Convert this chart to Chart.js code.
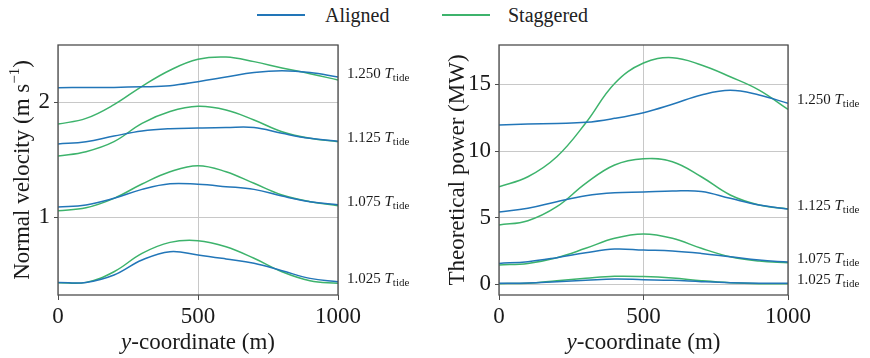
<!DOCTYPE html>
<html>
<head>
<meta charset="utf-8">
<script src="https://cdn.jsdelivr.net/npm/chart.js@4.4.1/dist/chart.umd.min.js"></script>
<style>
  html, body { margin: 0; padding: 0; background: #fff; }
  #wrap { position: relative; width: 870px; height: 358px; }
  #velWrap { position: absolute; left: 0; top: 0; width: 435px; height: 358px; }
  #powWrap { position: absolute; left: 435px; top: 0; width: 435px; height: 358px; }
  #legend { position: absolute; left: 0; top: 3px; width: 870px; height: 26px;
    font-family: "Liberation Serif", serif; font-size: 20px; color: #222; }
  .item { position: absolute; top: 0; line-height: 24px; }
  .swatch { position: absolute; top: 11px; width: 48px; height: 2px; }
</style>
</head>
<body>
<div id="wrap">
  <div id="legend">
    <div class="swatch" style="left:257px;background:#2276b8"></div>
    <div class="item" style="left:325px">Aligned</div>
    <div class="swatch" style="left:442px;background:#3db36c"></div>
    <div class="item" style="left:508px">Staggered</div>
  </div>
  <div id="velWrap"><canvas id="velChart"></canvas></div>
  <div id="powWrap"><canvas id="powChart"></canvas></div>
</div>
<script>
// y-coordinate samples (m)
const yCoord = [0, 100, 200, 300, 400, 500, 600, 700, 800, 900, 1000];
const periods = ['1.250', '1.125', '1.075', '1.025'];
const xTicks = [0, 500, 1000];
const velTicks = [1, 2];
const powTicks = [0, 5, 10, 15];

// Normal velocity (m/s)
const velAligned = [
  [2.128, 2.13, 2.13, 2.135, 2.145, 2.18, 2.22, 2.26, 2.275, 2.26, 2.22],
  [1.637, 1.657, 1.706, 1.75, 1.77, 1.776, 1.78, 1.78, 1.73, 1.686, 1.66],
  [1.087, 1.105, 1.163, 1.241, 1.29, 1.285, 1.265, 1.241, 1.183, 1.134, 1.108],
  [0.430, 0.43, 0.494, 0.625, 0.698, 0.669, 0.634, 0.596, 0.532, 0.465, 0.436]
];
const velStaggered = [
  [1.81, 1.86, 1.98, 2.14, 2.28, 2.375, 2.395, 2.355, 2.30, 2.25, 2.195],
  [1.532, 1.57, 1.657, 1.817, 1.92, 1.965, 1.933, 1.846, 1.744, 1.686, 1.657],
  [1.055, 1.081, 1.163, 1.288, 1.395, 1.448, 1.395, 1.294, 1.192, 1.134, 1.099],
  [0.427, 0.43, 0.523, 0.683, 0.779, 0.794, 0.741, 0.64, 0.523, 0.445, 0.422]
];

// Theoretical power (MW)
const powAligned = [
  [11.95, 12.02, 12.07, 12.15, 12.45, 12.87, 13.5, 14.2, 14.55, 14.2, 13.57],
  [5.42, 5.7, 6.2, 6.65, 6.87, 6.92, 7.0, 6.97, 6.45, 5.95, 5.65],
  [1.57, 1.7, 2.0, 2.37, 2.65, 2.57, 2.5, 2.32, 2.07, 1.82, 1.67],
  [0.08, 0.1, 0.2, 0.3, 0.4, 0.35, 0.3, 0.2, 0.12, 0.08, 0.08]
];
const powStaggered = [
  [7.32, 8.07, 9.57, 12.1, 15.07, 16.6, 17.0, 16.45, 15.57, 14.57, 13.12],
  [4.45, 4.77, 5.82, 7.57, 8.95, 9.42, 9.2, 8.07, 6.7, 5.95, 5.65],
  [1.45, 1.57, 2.0, 2.7, 3.45, 3.77, 3.45, 2.7, 2.07, 1.75, 1.62],
  [0.05, 0.08, 0.27, 0.45, 0.6, 0.58, 0.47, 0.27, 0.12, 0.05, 0.05]
];

const BLUE = '#2276b8';
const GREEN = '#3db36c';
const SERIF = '"Liberation Serif", "DejaVu Serif", serif';

// draw a run of text pieces (normal / italic / sub / sup)
function drawRich(ctx, parts, x, y, align) {
  const fontOf = p => (p.italic ? 'italic ' : '') + p.size + 'px ' + SERIF;
  let total = 0;
  parts.forEach(p => { ctx.font = fontOf(p); p.w = ctx.measureText(p.t).width; total += p.w; });
  let cx = align === 'left' ? x : x - total / 2;
  ctx.textAlign = 'left';
  ctx.textBaseline = 'alphabetic';
  parts.forEach(p => {
    ctx.font = fontOf(p);
    ctx.fillText(p.t, cx, y + (p.dy || 0));
    cx += p.w;
  });
}

const decorations = {
  id: 'decorations',
  afterDraw(chart, args, opts) {
    const { ctx, chartArea: a, scales } = chart;
    ctx.save();
    // axes frame
    ctx.strokeStyle = '#4d4d4d';
    ctx.lineWidth = 1.3;
    ctx.strokeRect(a.left, a.top, a.right - a.left, a.bottom - a.top);
    ctx.fillStyle = '#1a1a1a';
    // period labels on the right
    const ds = chart.data.datasets;
    periods.forEach((p, i) => {
      const ends = ds.filter(d => d.group === i).map(d => d.data[d.data.length - 1]);
      const yPix = scales.y.getPixelForValue(Math.max(...ends)) - 4;
      drawRich(ctx, [
        { t: p + ' ', size: 15 },
        { t: 'T', size: 15, italic: true },
        { t: 'tide', size: 11, dy: 3 }
      ], a.right + 9, yPix + 5, 'left');
    });
    // x axis title
    drawRich(ctx, [
      { t: 'y', size: 23, italic: true },
      { t: '-coordinate (m)', size: 23 }
    ], (a.left + a.right) / 2, 349, 'center');
    // y axis title (rotated)
    ctx.translate(opts.titleX, (a.top + a.bottom) / 2);
    ctx.rotate(-Math.PI / 2);
    drawRich(ctx, opts.yTitle, 0, 0, 'center');
    ctx.restore();
  }
};

function buildDatasets(aligned, staggered) {
  const out = [];
  aligned.forEach((vals, i) => {
    out.push({ label: 'Aligned', group: i, data: vals, borderColor: BLUE });
    out.push({ label: 'Staggered', group: i, data: staggered[i], borderColor: GREEN });
  });
  return out;
}

function makeChart(id, aligned, staggered, yMin, yMax, yTicks, yAxisWidth, padRight, yTitle, titleX) {
  const ctx = document.getElementById(id).getContext('2d');
  return new Chart(ctx, {
    type: 'line',
    data: { labels: yCoord, datasets: buildDatasets(aligned, staggered) },
    options: {
      responsive: true,
      maintainAspectRatio: false,
      animation: false,
      elements: {
        point: { radius: 0 },
        line: { borderWidth: 1.5, tension: 0.4, fill: false }
      },
      layout: { padding: { top: 45, right: padRight, left: 0, bottom: 0 } },
      plugins: {
        legend: { display: false },
        tooltip: { enabled: false },
        decorations: { yTitle, titleX }
      },
      scales: {
        x: {
          type: 'linear',
          min: 0, max: 1000,
          afterFit: s => { s.height = 63; },
          afterBuildTicks: s => { s.ticks = xTicks.map(v => ({ value: v })); },
          ticks: { color: '#1a1a1a', padding: 3,
            font: { family: SERIF, size: 23 }, callback: v => String(v) },
          grid: { color: '#c8c8c8', lineWidth: 1, tickLength: 5, tickColor: '#4d4d4d' },
          border: { display: false }
        },
        y: {
          min: yMin, max: yMax,
          afterFit: s => { s.width = yAxisWidth; },
          afterBuildTicks: s => { s.ticks = yTicks.map(v => ({ value: v })); },
          ticks: { color: '#1a1a1a', padding: 4,
            font: { family: SERIF, size: 23 }, callback: v => String(v) },
          grid: { color: '#c8c8c8', lineWidth: 1, tickLength: 4, tickColor: '#4d4d4d' },
          border: { display: false }
        }
      }
    },
    plugins: [decorations]
  });
}

makeChart('velChart', velAligned, velStaggered, 0.32, 2.5, velTicks, 58, 97, [
  { t: 'Normal velocity (m s', size: 23 },
  { t: '\u22121', size: 15, dy: -10 },
  { t: ')', size: 23 }
], 29);

makeChart('powChart', powAligned, powStaggered, -0.8, 17.95, powTicks, 64, 82, [
  { t: 'Theoretical power (MW)', size: 23 }
], 29);
</script>
</body>
</html>
